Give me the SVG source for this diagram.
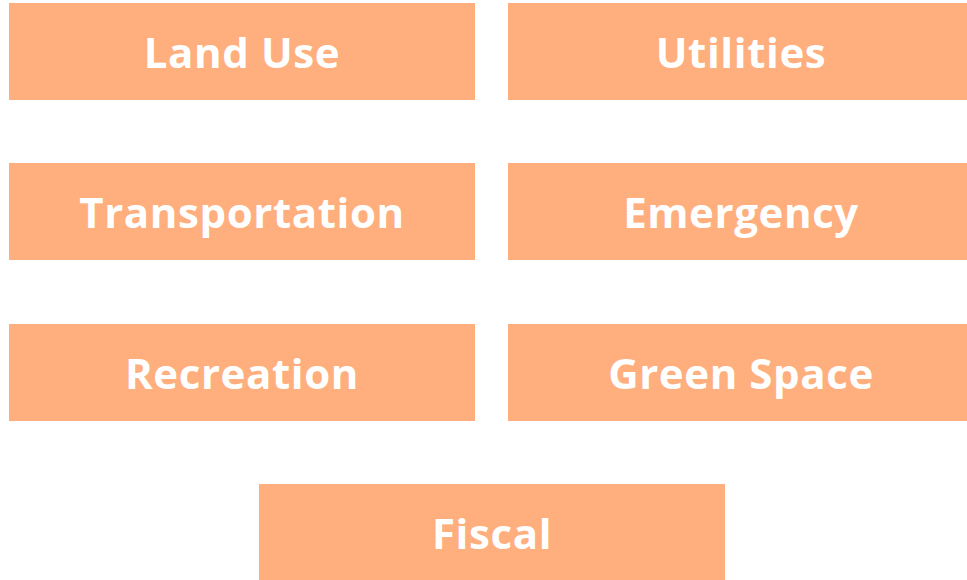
<svg xmlns="http://www.w3.org/2000/svg" width="967" height="580" viewBox="0 0 967 580">
<style>
.b{fill:#FFAE7D}
.t{fill:#FFFFFF;font-family:"Open Sans","Liberation Sans",sans-serif;font-weight:700;font-size:42px;letter-spacing:0.6px;text-anchor:middle;dominant-baseline:central}
</style>
<rect width="967" height="580" fill="#FFFFFF"/>
<g id="land-use"><rect class="b" x="9" y="3" width="466" height="97"/><text class="t" x="242" y="51">Land Use</text></g>
<g id="utilities"><rect class="b" x="508" y="3" width="466" height="97"/><text class="t" x="741" y="51">Utilities</text></g>
<g id="transportation"><rect class="b" x="9" y="163" width="466" height="97"/><text class="t" x="242" y="211">Transportation</text></g>
<g id="emergency"><rect class="b" x="508" y="163" width="466" height="97"/><text class="t" x="741" y="211">Emergency</text></g>
<g id="recreation"><rect class="b" x="9" y="324" width="466" height="97"/><text class="t" x="242" y="372">Recreation</text></g>
<g id="green-space"><rect class="b" x="508" y="324" width="466" height="97"/><text class="t" x="741" y="372">Green Space</text></g>
<g id="fiscal"><rect class="b" x="259" y="484" width="466" height="97"/><text class="t" x="492" y="532">Fiscal</text></g>
<g id="connectors"></g>
</svg>
